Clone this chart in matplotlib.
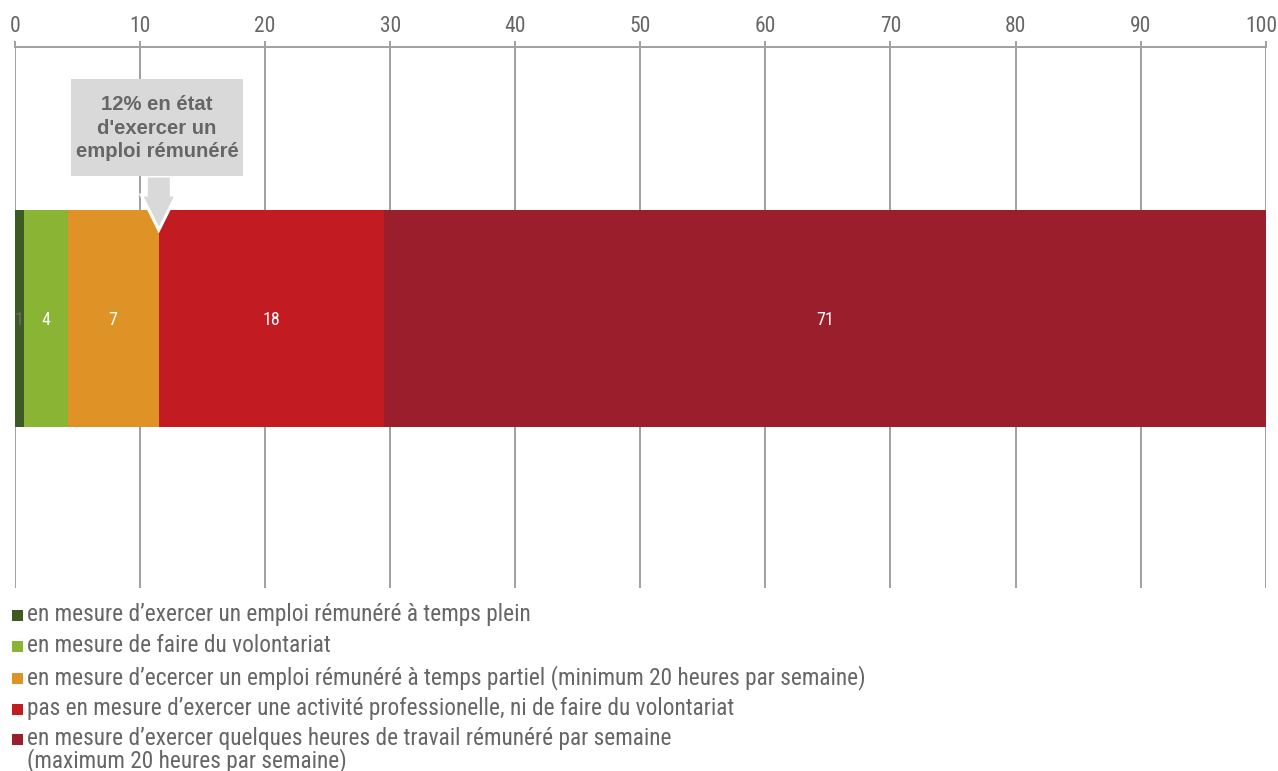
import matplotlib
matplotlib.use("Agg")
import matplotlib.pyplot as plt
from matplotlib import font_manager
from matplotlib.patches import Polygon, Rectangle
from matplotlib.transforms import ScaledTranslation

# ---- data -------------------------------------------------------------
categories = [
    "en mesure d’exercer un emploi rémunéré à temps plein",
    "en mesure de faire du volontariat",
    "en mesure d’ecercer un emploi rémunéré à temps partiel (minimum 20 heures par semaine)",
    "pas en mesure d’exercer une activité professionelle, ni de faire du volontariat",
    "en mesure d’exercer quelques heures de travail rémunéré par semaine\n(maximum 20 heures par semaine)",
]
values = [0.7, 3.5, 7.3, 18.0, 70.5]
colors = ["#3d5a22", "#8ab434", "#df9327", "#c21b22", "#9b1e2d"]
value_label_colors = ["#6a6a6a", "white", "white", "white", "white"]
ticks = list(range(0, 101, 10))
callout_suffix = " en état\nd'exercer un\nemploi rémunéré"
callout_segments = 3  # first three segments can hold a paid job


def pct(v):
    return int(v + 0.5 + 1e-9)


# ---- fonts ------------------------------------------------------------
available = {f.name for f in font_manager.fontManager.ttflist}
narrow = next((f for f in ["Roboto Condensed", "Liberation Sans Narrow", "Roboto"]
               if f in available), "DejaVu Sans")
bold_family = next((f for f in ["Liberation Sans", "Arial", "DejaVu Sans"]
                    if f in available), "DejaVu Sans")
TEXT = "#666666"
GRID = "#a0a0a0"

W, H = 1278, 771
fig = plt.figure(figsize=(W / 100, H / 100), dpi=100)

# axes placed so that 0..100 spans the chart width and gridlines run to the legend
px_left, px_right = 15, 1265.7
px_top, px_bottom = 47, 588
ax = fig.add_axes([px_left / W, 1 - px_bottom / H,
                   (px_right - px_left) / W, (px_bottom - px_top) / H])

# bar occupies y in [-0.5, 0.5] -> pixel rows 427..210
bar_px_top, bar_px_bottom = 210, 427
unit = bar_px_bottom - bar_px_top


def ypx(py):
    return 0.5 - (py - bar_px_top) / unit


ax.set_xlim(0, 100)
ax.set_ylim(ypx(px_bottom), ypx(px_top))

left = 0.0
for v, c, lc in zip(values, colors, value_label_colors):
    ax.barh(0, v, left=left, height=1.0, color=c, edgecolor="none", zorder=2)
    ax.text(left + v / 2, ypx(320), f"{pct(v)}", ha="center", va="center",
            color=lc, fontsize=13, family=narrow, zorder=3)
    left += v

# axis styling
ax.set_xticks(ticks)
ax.set_yticks([])
ax.xaxis.tick_top()
ax.tick_params(axis="x", direction="out", length=4, width=1.4, color=GRID,
               labelsize=15.5, labelcolor=TEXT, pad=3)
tick_labels = ax.get_xticklabels()
for lbl in tick_labels:
    lbl.set_family(narrow)
# keep the last label inside the figure
tick_labels[-1].set_transform(tick_labels[-1].get_transform()
                              + ScaledTranslation(-0.04, 0, fig.dpi_scale_trans))
ax.grid(axis="x", color=GRID, linewidth=1.4, zorder=0)
ax.set_axisbelow(True)
for s in ["left", "right", "bottom"]:
    ax.spines[s].set_visible(False)
ax.spines["top"].set_color(GRID)
ax.spines["top"].set_linewidth(1.4)

# ---- callout ----------------------------------------------------------
tip = sum(values[:callout_segments])
box_color = "#d9d9d9"
arrow = Polygon([
    (tip - 1.0, ypx(176)), (tip + 1.0, ypx(176)),
    (tip + 1.0, ypx(195)), (tip + 1.4, ypx(195)),
    (tip, ypx(230)),
    (tip - 1.4, ypx(195)), (tip - 1.0, ypx(195)),
], closed=True, facecolor=box_color, edgecolor="white", linewidth=2.2,
    zorder=4, joinstyle="miter")
ax.add_patch(arrow)
box = Rectangle((tip - 7.0, ypx(176)), 13.75, ypx(79) - ypx(176),
                facecolor=box_color, edgecolor="none", zorder=5)
ax.add_patch(box)
ax.text(tip - 0.15, ypx(128), f"{pct(tip)}%" + callout_suffix,
        ha="center", va="center", color=TEXT, fontsize=14.6,
        fontweight="bold", family=bold_family, linespacing=1.32, zorder=6)

# ---- legend -----------------------------------------------------------
row_y = [615, 646, 678, 709, 739]
for name, c, y in zip(categories, colors, row_y):
    fig.patches.append(Rectangle((12 / W, 1 - (y + 5.5) / H), 11 / W, 11 / H,
                                 transform=fig.transFigure, facecolor=c,
                                 edgecolor="none"))
    lines = name.split("\n")
    for i, line in enumerate(lines):
        fig.text(27.5 / W, 1 - (y + i * 22) / H, line, ha="left", va="center",
                 color=TEXT, fontsize=16.8, family=narrow)

fig.savefig("out.png", dpi=100)
